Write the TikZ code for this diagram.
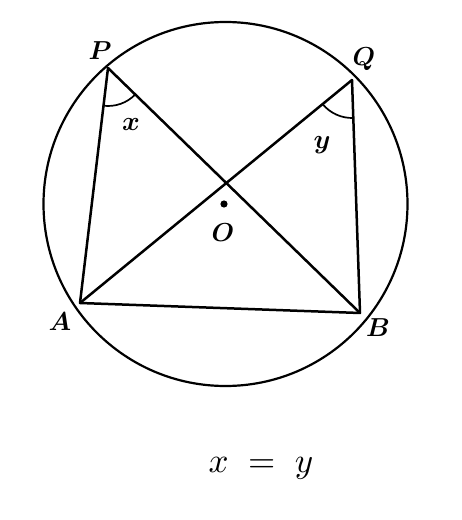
\documentclass[tikz,border=0pt]{standalone}
\usepackage{bm}
\usetikzlibrary{angles}
\begin{document}
\begin{tikzpicture}[x=1pt,y=1pt,
  geo/.style={line width=2.5pt,line cap=round,line join=round},
  ptlabel/.style={scale=2.6,inner sep=0pt},
  anglabel/.style={scale=2.7,inner sep=0pt}]
\useasboundingbox (0,0) rectangle (462,520);
% points
\coordinate (C) at (225.5,316);
\coordinate (P) at (108,452);
\coordinate (Q) at (352,440);
\coordinate (A) at (80,217);
\coordinate (B) at (360,207);
\coordinate (O) at (224,316);
% circle
\draw[geo,line width=2.2pt] (C) circle[radius=182];
% chords
\draw[geo] (P) -- (A) -- (B) -- (Q);
\draw[geo] (P) -- (B);
\draw[geo] (Q) -- (A);
% angles
\pic[draw,line width=1.7pt,angle radius=38pt] {angle=A--P--B};
\pic[draw,line width=1.7pt,angle radius=38pt] {angle=A--Q--B};
% centre dot
\fill (O) circle[radius=3.6];
% labels
\node[ptlabel] (lP) at (100,469) {$\bm{P}$};
\node[ptlabel] (lQ) at (364,461) {$\bm{Q}$};
\node[ptlabel] (lA) at (60,198) {$\bm{A}$};
\node[ptlabel] (lB) at (378,192) {$\bm{B}$};
\node[ptlabel] (lO) at (223,287) {$\bm{O}$};
\node[anglabel] (lx) at (131,395) {$\bm{x}$};
\node[anglabel] (ly) at (322,375) {$\bm{y}$};
\node[scale=3.5,inner sep=0pt] (eq) at (261,52) {$x\;=\;y$};
\end{tikzpicture}
\end{document}
